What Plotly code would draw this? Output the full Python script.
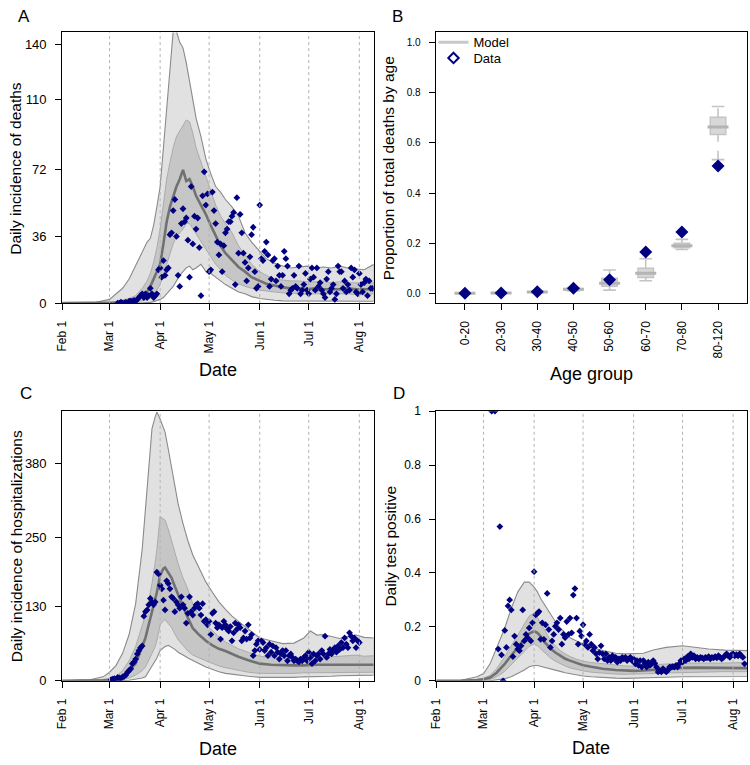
import pandas as pd
import plotly.graph_objects as go

START = pd.Timestamp("2020-02-01")

# ---------------- Panel A: daily deaths ----------------
A_days = [0, 20, 29, 33, 37, 41, 45, 49, 52, 54, 56, 58, 60, 62, 64, 66, 68, 70, 72, 74,
          76, 78, 80, 82, 85, 88, 91, 94, 97, 100, 104, 108, 112, 116, 121, 125, 130, 135,
          140, 145, 150, 155, 160, 165, 170, 175, 180, 185, 191]
A_out_hi = [0, 0.3, 2, 5, 8, 13, 20, 27, 33, 35, 42, 52, 63, 84, 104, 128, 147, 147, 141, 138,
            130, 120, 110, 100, 90, 78, 70, 63, 60, 56, 52, 47, 38, 33, 28, 24, 21.5, 20, 19,
            19.5, 20, 19, 19.5, 19, 20, 19, 18.5, 18, 21]
A_in_hi = [0, 0, 0.3, 0.8, 1.5, 2.5, 4, 8, 12, 16, 22, 30, 40, 53, 67, 76, 84, 90, 93, 96,
           99, 98, 92, 84, 76, 68, 60, 53, 47, 43, 38, 31, 26, 21, 17, 15, 13, 12.5,
           12, 12, 11.5, 11.5, 12, 11, 11.5, 11, 11, 10.5, 11]
A_med = [0, 0, 0.1, 0.3, 0.6, 1, 2, 4, 6, 9, 13, 17, 21, 32, 44, 52, 58, 63, 67, 72,
         66, 67, 63, 58, 53, 48, 42, 36, 31, 27, 23, 19.5, 17, 14, 12, 10.5, 9.5, 8.5,
         8, 8, 7.5, 8, 7.5, 7.5, 7.5, 8, 7.5, 7.5, 7.5]
A_in_lo = [0, 0, 0, 0, 0.1, 0.3, 0.6, 1.2, 2, 3, 4.5, 7, 10, 15, 21, 27, 32, 36, 38, 40,
           43, 43, 40, 37, 33, 29, 25, 21, 18, 15, 12.5, 10.5, 9, 8, 7, 6.5, 6, 5.5,
           5.5, 5, 5, 5, 5, 5, 5, 5, 4.5, 4.5, 5]
A_out_lo = [0, 0, 0, 0, 0, 0, 0, 0, 0.2, 0.4, 0.8, 1.2, 2, 3, 5, 7, 9, 12, 15, 17,
            19, 20, 18, 19, 21, 17, 16, 14, 12, 10, 8, 6, 5, 3.5, 2.5, 2, 1.5, 1.2,
            1, 1, 1, 1, 1, 1, 1, 1, 1, 1, 1]
A_data_start = 34  # Mar 5
A_deaths = [0, 0, 0.5, 0, 0, 0.5, 0, 1, 1, 1, 1.5, 1, 2, 3, 4, 5, 3, 5, 3, 4, 8, 5, 3, 4, 5,
            18, 19, 14, 23, 15, 18, 19, 37, 38, 50, 56, 36, 15, 9, 43, 51, 44, 46, 34, 14,
            63, 32, 47, 40, 46, 30, 4, 58, 71, 53, 59, 17, 18, 60, 50, 43, 33, 26, 32, 17,
            31, 38, 40, 44, 44, 47, 49, 10, 57, 27, 48, 38, 27, 22, 12, 19, 25, 37, 41, 17,
            8, 9, 53, 24, 23, 28, 33, 26, 9, 13, 23, 24, 12, 20, 15, 9, 15, 28, 24, 20, 5,
            7, 8, 15, 9, 8, 20, 5, 7, 10, 16, 7, 5, 13, 19, 14, 7, 19, 9, 11, 7, 5, 3, 13,
            17, 6, 8, 10, 2, 5, 20, 17, 17, 8, 12, 6, 10, 7, 19, 14, 18, 6, 5, 16, 10, 6,
            11, 13, 4, 12, 8, 8]

# ---------------- Panel B: deaths by age ----------------
age_groups = ["0-20", "20-30", "30-40", "40-50", "50-60", "60-70", "70-80", "80-120"]
age_data = [0.0, 0.001, 0.006, 0.02, 0.054, 0.165, 0.245, 0.508]
age_q1 = [0.0, 0.0005, 0.004, 0.013, 0.028, 0.063, 0.182, 0.633]
age_med = [0.0005, 0.001, 0.005, 0.016, 0.04, 0.08, 0.19, 0.663]
age_q3 = [0.001, 0.002, 0.007, 0.019, 0.06, 0.1, 0.2, 0.702]
age_lo = [0.0, 0.0, 0.003, 0.01, 0.013, 0.05, 0.175, 0.533]
age_hi = [0.002, 0.003, 0.009, 0.023, 0.093, 0.138, 0.215, 0.745]

# ---------------- Panel C: hospitalizations ----------------
C_days = [0, 17, 25, 29, 33, 37, 41, 45, 49, 51, 53, 55, 57, 58, 60, 62, 63, 65, 67, 69,
          71, 74, 77, 80, 84, 88, 92, 96, 100, 104, 108, 114, 121, 128, 135, 142, 148, 152,
          156, 160, 165, 170, 175, 180, 185, 191]
C_out_hi = [0, 2, 7, 15, 27, 48, 81, 135, 230, 298, 370, 441, 462, 470, 458, 440, 435, 405,
            373, 340, 310, 275, 245, 220, 195, 173, 155, 138, 125, 113, 104, 90, 75, 70, 65,
            66, 75, 87, 80, 81, 78, 74, 78, 80, 76, 75]
C_in_hi = [0, 0.5, 2, 4, 8, 18, 35, 60, 95, 115, 140, 170, 207, 230, 287, 282, 281, 265, 247,
           225, 205, 180, 160, 135, 115, 98, 88, 77, 68, 62, 56, 50, 43, 41, 40, 38, 40, 44,
           43, 44, 42, 43, 44, 45, 43, 44]
C_med = [0, 0.2, 1, 2, 4, 7, 18, 30, 60, 75, 98, 120, 145, 155, 185, 196, 198, 190, 180, 165,
         150, 130, 110, 92, 80, 70, 62, 56, 52, 47, 42, 36, 30, 28, 27, 27, 27, 28, 28, 28,
         28, 28, 29, 28, 28, 28]
C_in_lo = [0, 0, 0, 0.5, 1, 2, 5, 10, 18, 24, 35, 48, 60, 70, 98, 105, 107, 100, 93, 82, 72,
           62, 52, 45, 40, 35, 30, 26, 23, 20, 18, 15, 13, 13, 13, 13, 14, 15, 15, 15, 15,
           15, 15, 15, 15, 15]
C_out_lo = [0, 0, 0, 0, 0, 0.5, 1, 3, 5, 7, 15, 25, 35, 40, 53, 58, 60, 62, 58, 55, 50, 45,
            40, 35, 30, 24, 20, 16, 13, 11, 10, 8, 6, 6, 6, 6, 7, 8, 8, 8, 8, 9, 9, 10, 10, 10]
C_data_start = 30  # Mar 2
C_hosp = [2, 3, 4, 3, 6, 5, 4, 7, 8, 10, 15, 18, 21, 30, 33, 38, 47, 53, 58, 61, 113, 121,
          124, 133, 144, 138, 133, 138, 190, 187, 167, 161, 141, 124, 175, 170, 161, 147,
          144, 121, 138, 133, 127, 147, 133, 127, 101, 118, 147, 121, 115, 127, 133, 135,
          127, 115, 135, 104, 107, 98, 104, 81, 118, 121, 101, 93, 98, 73, 93, 104, 98, 90,
          87, 95, 70, 84, 101, 90, 98, 93, 70, 75, 87, 73, 98, 75, 81, 44, 53, 64, 70, 55,
          70, 67, 53, 58, 44, 64, 50, 61, 44, 58, 50, 38, 47, 53, 44, 53, 35, 44, 47, 41,
          35, 38, 35, 33, 38, 35, 41, 44, 35, 50, 41, 30, 47, 35, 44, 47, 38, 53, 47, 78,
          41, 47, 55, 47, 53, 58, 50, 61, 55, 67, 58, 75, 64, 58, 84, 78, 70, 75, 58, 70, 67]

# ---------------- Panel D: test positivity ----------------
D_days = [0, 15, 25, 29, 33, 37, 42, 46, 50, 54, 57, 60, 62, 64, 67, 70, 73, 76, 79, 82,
          86, 90, 95, 102, 110, 116, 121, 127, 133, 141, 151, 159, 167, 177, 191]
D_out_hi = [0, 0.002, 0.015, 0.027, 0.063, 0.124, 0.196, 0.269, 0.33, 0.366, 0.366, 0.348,
            0.33, 0.305, 0.275, 0.245, 0.22, 0.196, 0.178, 0.16, 0.148, 0.136, 0.124, 0.112,
            0.102, 0.1, 0.1, 0.102, 0.114, 0.124, 0.13, 0.124, 0.118, 0.114, 0.112]
D_in_hi = [0, 0, 0.005, 0.01, 0.02, 0.045, 0.09, 0.13, 0.17, 0.215, 0.24, 0.25, 0.235, 0.215,
           0.18, 0.15, 0.13, 0.112, 0.1, 0.09, 0.08, 0.073, 0.068, 0.063, 0.058, 0.055, 0.055,
           0.057, 0.06, 0.063, 0.066, 0.066, 0.065, 0.066, 0.068]
D_med = [0, 0, 0.003, 0.006, 0.012, 0.03, 0.063, 0.095, 0.124, 0.155, 0.175, 0.184, 0.178,
         0.165, 0.14, 0.12, 0.105, 0.092, 0.082, 0.075, 0.065, 0.058, 0.052, 0.045, 0.04,
         0.038, 0.037, 0.038, 0.041, 0.044, 0.048, 0.049, 0.049, 0.048, 0.047]
D_in_lo = [0, 0, 0, 0.002, 0.005, 0.015, 0.035, 0.06, 0.087, 0.11, 0.128, 0.136, 0.13, 0.118,
           0.1, 0.085, 0.073, 0.063, 0.055, 0.048, 0.042, 0.037, 0.032, 0.028, 0.025, 0.024,
           0.024, 0.025, 0.027, 0.029, 0.032, 0.033, 0.033, 0.034, 0.034]
D_out_lo = [0, 0, 0, 0, 0, 0.002, 0.008, 0.015, 0.028, 0.04, 0.052, 0.057, 0.057, 0.055, 0.05,
            0.045, 0.04, 0.035, 0.03, 0.026, 0.022, 0.018, 0.015, 0.012, 0.01, 0.009, 0.009,
            0.01, 0.011, 0.013, 0.015, 0.016, 0.016, 0.016, 0.016]
D_data_start = 34  # Mar 5
D_pos = [1.0, None, 1.0, None, 0.118, 0.572, 0.096, 0.0, 0.187, 0.124, 0.278, 0.30, 0.263,
         0.09, 0.166, 0.136, 0.118, 0.112, 0.13, 0.263, 0.148, 0.172, 0.16, 0.196, 0.148,
         0.215, 0.405, 0.245, 0.25, 0.257, 0.154, 0.215, 0.154, 0.208, 0.324,
         0.19, 0.124, 0.148, 0.172, 0.202, 0.215, 0.19, 0.233, 0.136, 0.172, 0.16, 0.22,
         0.172, 0.233, 0.178, 0.318, 0.342, 0.233, 0.136, 0.184, 0.166, 0.208, 0.136, 0.148,
         0.124, 0.172, 0.136, 0.112, 0.124, 0.1, 0.081, 0.105, 0.13, 0.1, 0.081, 0.1, 0.075,
         0.087, 0.075, 0.093, 0.081, 0.087, 0.069, 0.081, 0.075, 0.087, 0.081, 0.087, 0.075,
         0.081, 0.087, 0.075, 0.081, 0.063, 0.075, 0.057, 0.075, 0.051, 0.075, 0.063, 0.051,
         0.069, 0.057, 0.063, 0.075, 0.065, 0.051, 0.033, 0.039, 0.033, 0.045, 0.039, 0.033,
         0.039, 0.051, 0.051, 0.053, 0.051, 0.057, 0.051, 0.063, 0.075, 0.069, 0.081, 0.075,
         0.09, 0.081, 0.1, 0.087, 0.093, 0.081, 0.087, 0.081, 0.087, 0.085, 0.081, 0.087,
         0.085, 0.09, 0.081, 0.087, 0.085, 0.09, 0.085, 0.093, 0.087, 0.081, 0.087, 0.093,
         0.1, 0.093, 0.087, 0.097, 0.1, 0.093, 0.097, 0.093, 0.1, 0.093, 0.087, 0.063]

month_ticks = ["2020-02-01", "2020-03-01", "2020-04-01", "2020-05-01",
               "2020-06-01", "2020-07-01", "2020-08-01"]
month_labels = ["Feb 1", "Mar 1", "Apr 1", "May 1", "Jun 1", "Jul 1", "Aug 1"]

# ---------------- styling ----------------
FONT = "Liberation Sans, Arial, Helvetica, sans-serif"
NAVY = "#000080"
OUT_FILL, OUT_LINE = "#e1e1e1", "#8a8a8a"
IN_FILL, IN_LINE = "#c6c6c6", "#a6a6a6"
MED_LINE = "#717171"
BOX_FILL, BOX_LINE, BOX_MED = "#d8d8d8", "#c4c4c4", "#b4b4b4"


def dates(days):
    return [START + pd.Timedelta(days=d) for d in days]


def add_band(fig, days, hi, lo, fill, line, width, xa, ya):
    d = dates(days)
    fig.add_trace(go.Scatter(x=d + d[::-1], y=list(hi) + list(lo)[::-1], fill="toself",
                             fillcolor=fill, line=dict(color=line, width=width),
                             mode="lines", hoverinfo="skip", showlegend=False,
                             xaxis=xa, yaxis=ya))


def add_panel(fig, days, ohi, ihi, med, ilo, olo, dstart, data, xa, ya):
    add_band(fig, days, ohi, olo, OUT_FILL, OUT_LINE, 1.1, xa, ya)
    add_band(fig, days, ihi, ilo, IN_FILL, IN_LINE, 0.9, xa, ya)
    fig.add_trace(go.Scatter(x=dates(days), y=med, mode="lines",
                             line=dict(color=MED_LINE, width=2.6), showlegend=False,
                             xaxis=xa, yaxis=ya))
    ddays = [dstart + i for i in range(len(data))]
    fig.add_trace(go.Scatter(x=dates(ddays), y=data, mode="markers",
                             marker=dict(symbol="diamond", size=5.2, color=NAVY,
                                         line=dict(width=0)),
                             showlegend=False, xaxis=xa, yaxis=ya))


fig = go.Figure()
add_panel(fig, A_days, A_out_hi, A_in_hi, A_med, A_in_lo, A_out_lo,
          A_data_start, A_deaths, "x", "y")
add_panel(fig, C_days, C_out_hi, C_in_hi, C_med, C_in_lo, C_out_lo,
          C_data_start, C_hosp, "x3", "y3")
add_panel(fig, D_days, D_out_hi, D_in_hi, D_med, D_in_lo, D_out_lo,
          D_data_start, D_pos, "x4", "y4")

# Panel B: boxes (whiskers drawn dashed separately)
wx, wy = [], []
for g, lo, q1, q3, hi in zip(age_groups, age_lo, age_q1, age_q3, age_hi):
    wx += [g, g, None, g, g, None]
    wy += [q3, hi, None, lo, q1, None]
fig.add_trace(go.Scatter(x=wx, y=wy, mode="lines", line=dict(color=BOX_LINE, width=1.6,
                                                               dash="dash"),
                         showlegend=False, hoverinfo="skip", xaxis="x2", yaxis="y2"))
fig.add_trace(go.Scatter(x=age_groups + age_groups, y=age_lo + age_hi, mode="markers",
                         marker=dict(symbol="line-ew", size=9,
                                     line=dict(color=BOX_LINE, width=1.6)),
                         showlegend=False, hoverinfo="skip", xaxis="x2", yaxis="y2"))
fig.add_trace(go.Box(x=age_groups, q1=age_q1, median=age_med, q3=age_q3,
                     lowerfence=age_q1, upperfence=age_q3, width=0.43,
                     fillcolor=BOX_FILL, line=dict(color=BOX_LINE, width=1.4),
                     whiskerwidth=0, boxpoints=False, showlegend=False,
                     xaxis="x2", yaxis="y2"))
fig.add_trace(go.Scatter(x=age_groups, y=age_med, mode="markers",
                         marker=dict(symbol="line-ew", size=15,
                                     line=dict(color=BOX_MED, width=3)),
                         showlegend=False, hoverinfo="skip", xaxis="x2", yaxis="y2"))
fig.add_trace(go.Scatter(x=age_groups, y=age_data, mode="markers",
                         marker=dict(symbol="diamond", size=10, color=NAVY, line=dict(width=0)),
                         showlegend=False, xaxis="x2", yaxis="y2"))
# legend entries
fig.add_trace(go.Scatter(x=[None], y=[None], mode="lines", name="Model",
                         line=dict(color="#c8c8c8", width=3), xaxis="x2", yaxis="y2",
                         legend="legend"))
fig.add_trace(go.Scatter(x=[None], y=[None], mode="markers", name="Data",
                         marker=dict(symbol="diamond-open", size=8, color=NAVY,
                                     line=dict(width=2, color=NAVY)),
                         xaxis="x2", yaxis="y2", legend="legend2"))

W, H = 750, 765


def dom_x(a, b):
    return [a / W, b / W]


def dom_y(top, bottom):
    return [1 - bottom / H, 1 - top / H]


frame = dict(showline=True, linecolor="black", linewidth=1, mirror=True,
             ticks="outside", ticklen=6, tickcolor="black", tickwidth=1,
             zeroline=False, showgrid=False,
             tickfont=dict(size=12, color="black", family=FONT))

date_axis = dict(frame, type="date", range=["2020-02-01", "2020-08-09 17:00"],
                 tickmode="array", tickvals=month_ticks, ticktext=month_labels,
                 tickangle=-90, ticklabelstandoff=6)

leg = dict(xanchor="left", yanchor="middle", bgcolor="rgba(0,0,0,0)",
           font=dict(size=13, family=FONT), itemwidth=30)

fig.update_layout(
    width=W, height=H, margin=dict(l=0, r=0, t=0, b=0),
    paper_bgcolor="white", plot_bgcolor="white",
    font=dict(family=FONT, color="black"),
    showlegend=True,
    legend=dict(leg, x=0.574, y=1 - 36 / H),
    legend2=dict(leg, x=0.574, y=1 - 52 / H),
    xaxis=dict(date_axis, domain=dom_x(55.7, 370), anchor="y"),
    yaxis=dict(frame, domain=dom_y(26, 302), anchor="x", range=[0, 146.3],
               tickmode="array", tickvals=[0, 36, 72, 110, 140],
               tickfont=dict(size=13, family=FONT), ticklabelstandoff=6),
    xaxis2=dict(frame, domain=dom_x(432.7, 747.3), anchor="y2", type="category",
                range=[-0.81, 7.81], tickangle=-90,
                categoryorder="array", categoryarray=age_groups, ticklabelstandoff=6),
    yaxis2=dict(frame, domain=dom_y(26, 302.3), anchor="x2", range=[-0.04, 1.04],
                tickmode="array", tickvals=[0, 0.2, 0.4, 0.6, 0.8, 1.0],
                ticktext=["0.0", "0.2", "0.4", "0.6", "0.8", "1.0"],
                tickfont=dict(size=10, family=FONT), ticklabelstandoff=6),
    xaxis3=dict(date_axis, domain=dom_x(55.7, 370), anchor="y3"),
    yaxis3=dict(frame, domain=dom_y(412.3, 687.3), anchor="x3", range=[0, 471.5],
                tickmode="array", tickvals=[0, 130, 250, 380],
                tickfont=dict(size=13, family=FONT), ticklabelstandoff=6),
    xaxis4=dict(date_axis, domain=dom_x(433.3, 747.3), anchor="y4"),
    yaxis4=dict(frame, domain=dom_y(412.3, 687.3), anchor="x4", range=[0, 1.0],
                tickmode="array", tickvals=[0, 0.2, 0.4, 0.6, 0.8, 1.0],
                ticktext=["0", "0.2", "0.4", "0.6", "0.8", "1"],
                tickfont=dict(size=12, family=FONT), ticklabelstandoff=6),
)

# dotted month grid lines, drawn over the bands as in the original
for xa, ya in [("x", "y"), ("x3", "y3"), ("x4", "y4")]:
    for t in month_ticks[1:]:
        fig.add_shape(type="line", xref=xa, yref=ya + " domain", x0=t, x1=t, y0=0, y1=1,
                      line=dict(color="#b3b3b3", width=1, dash="dot"), layer="above")


def ann(text, x, y, size, angle=0):
    fig.add_annotation(text=text, x=x / W, y=1 - y / H, xref="paper", yref="paper",
                       showarrow=False, xanchor="center", yanchor="middle",
                       textangle=angle, font=dict(size=size, family=FONT, color="black"))


ann("A", 17, 10, 17)
ann("B", 394, 10, 17)
ann("C", 19, 394, 17)
ann("D", 396, 394, 17)
ann("Date", 213, 370, 18)
ann("Age group", 590, 374, 18)
ann("Date", 213, 757, 18)
ann("Date", 590, 756, 18)
ann("Daily incidence of deaths", 9, 164, 15.5, -90)
ann("Proportion of total deaths by age", 385, 164, 15.5, -90)
ann("Daily incidence of hospitalizations", 9, 550, 15.5, -90)
ann("Daily test positive", 387, 550, 15.5, -90)

fig.write_html("out.html", config={"displayModeBar": False},
               post_script="document.body.style.margin='0';"
                           "document.body.style.overflow='hidden';")
